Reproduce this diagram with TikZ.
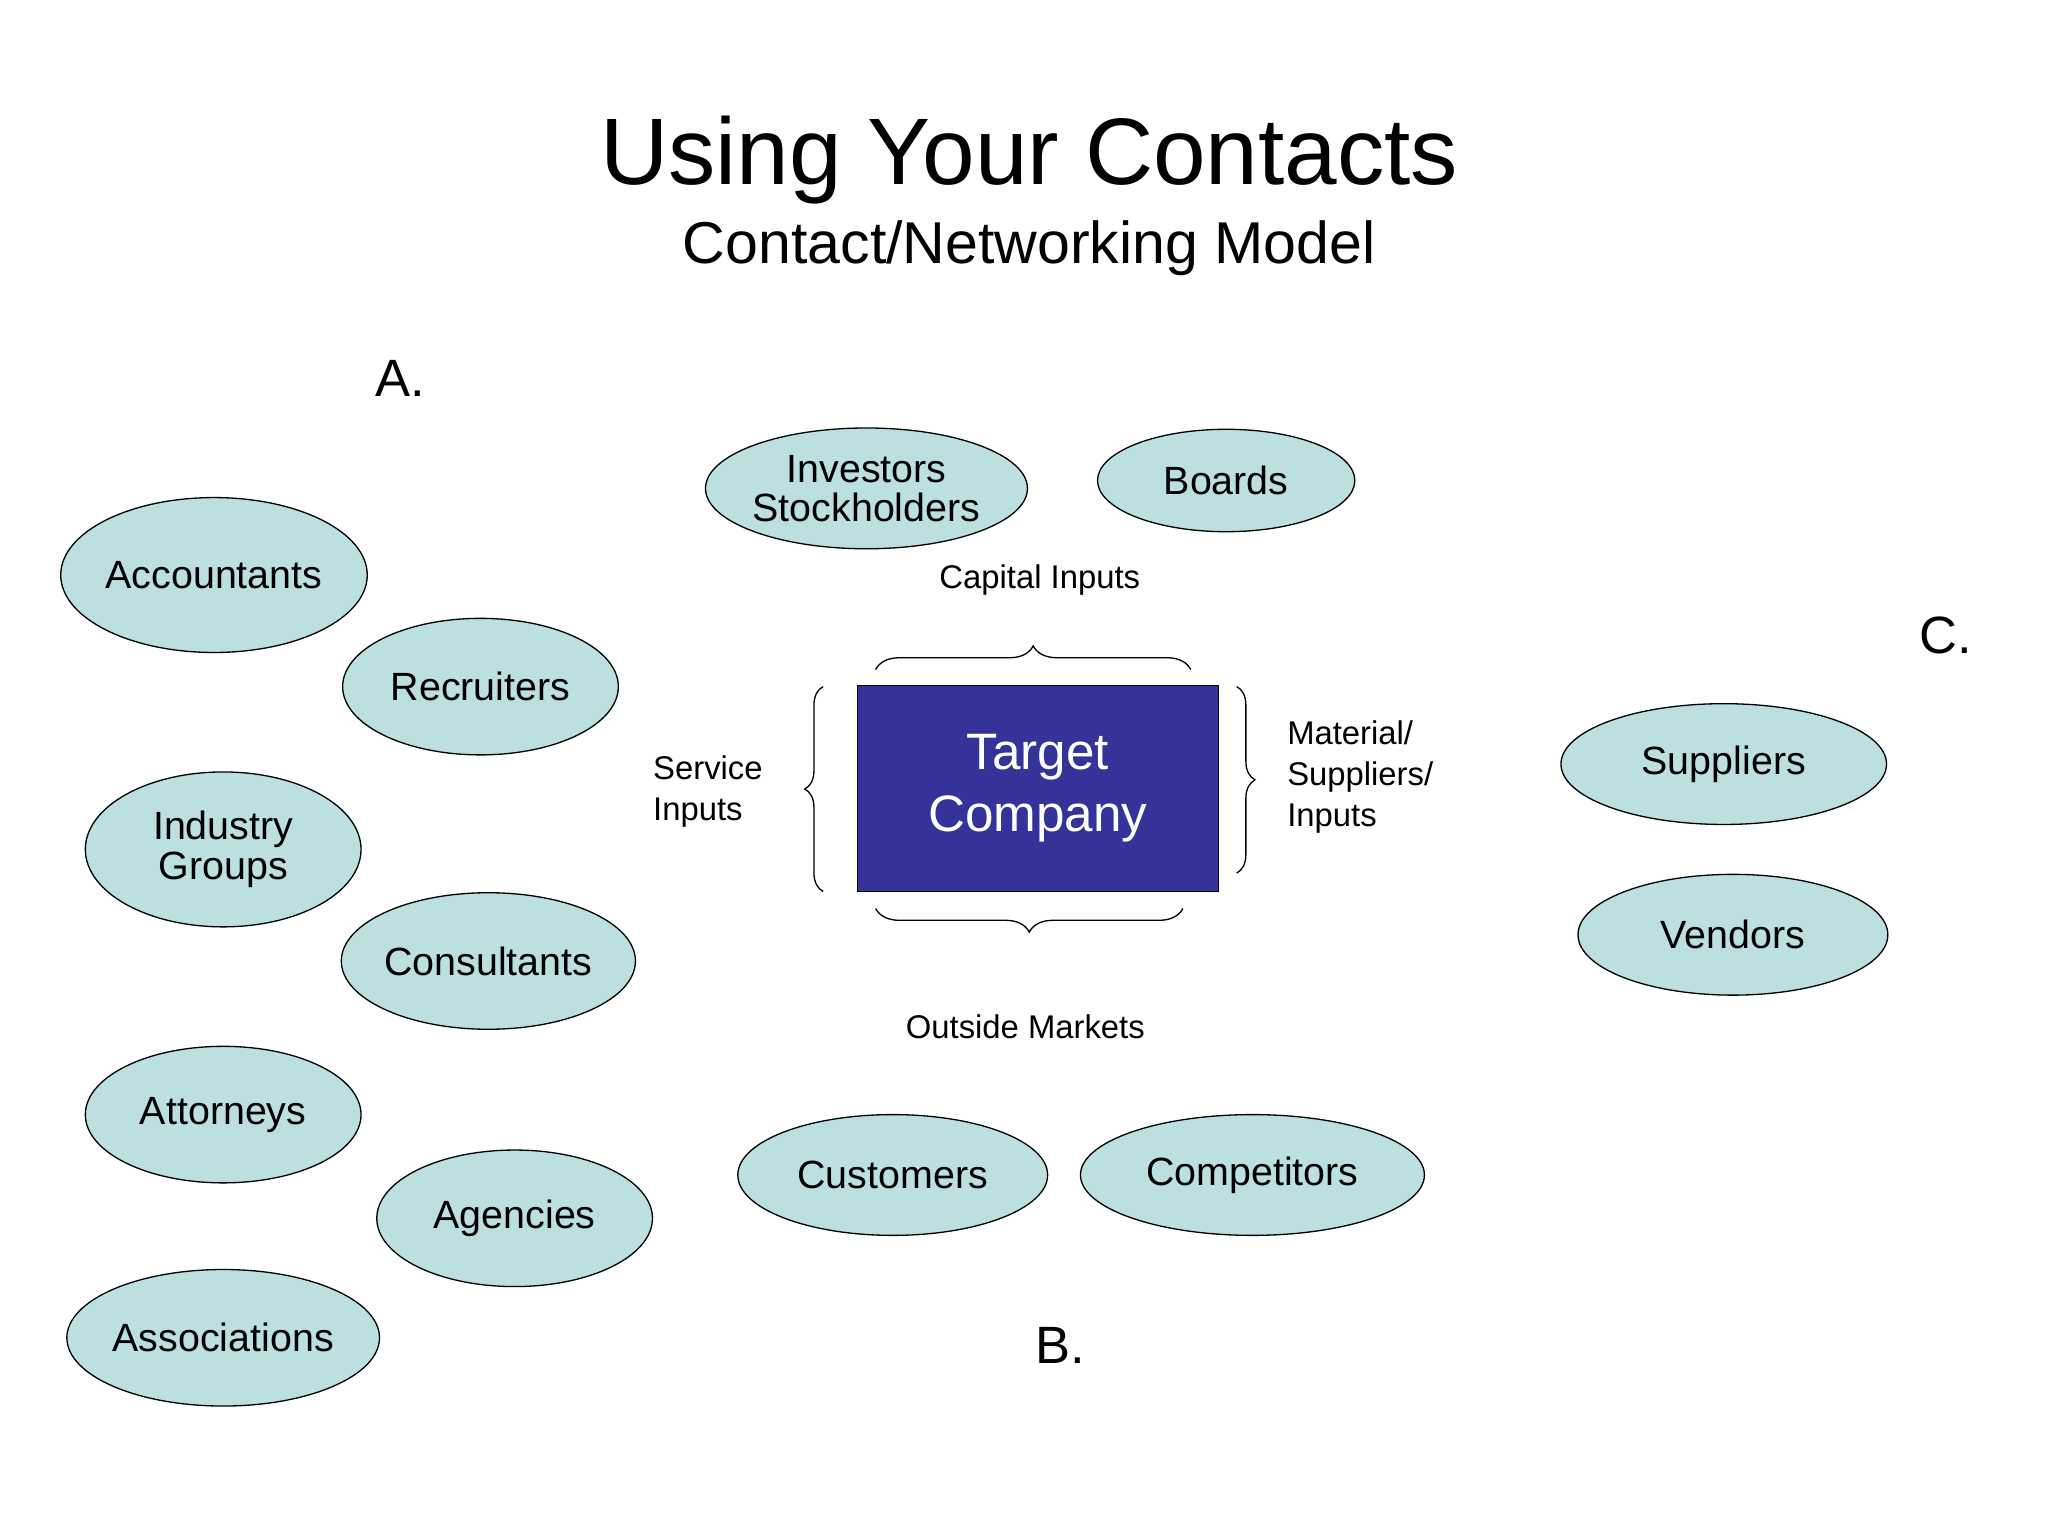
\documentclass[tikz,border=0pt]{standalone}
\usepackage{fontspec}
\setmainfont{Liberation Sans}
\usetikzlibrary{shapes.geometric,decorations.pathreplacing}
\definecolor{teal}{HTML}{BCE0E0}
\definecolor{navy}{HTML}{333399}
\begin{document}
\begin{tikzpicture}[x=1pt,y=-1pt,
  ell/.style={ellipse,draw=black,line width=1pt,fill=teal,inner sep=0pt,font=\fontsize{30}{34}\selectfont,align=center},
  lab/.style={font=\fontsize{25}{31}\selectfont,align=left},
  brc/.style={draw=black,line width=1pt,decorate,decoration={brace,amplitude=18pt}}]
\useasboundingbox (0,0) rectangle (1560,1170);
\node (title) at (784,122) {\fontsize{72}{80}\selectfont Using Your Contacts};
\node (sub) at (784,189) {\fontsize{45}{50}\selectfont Contact/Networking Model};
\node (A) at (305,288) {\fontsize{40}{44}\selectfont A.};
\node (B) at (808,1025) {\fontsize{40}{44}\selectfont B.};
\node (C) at (1482,484) {\fontsize{40}{44}\selectfont C.};
\newcommand{\el}[6]{\node[ell,minimum width=#4pt,minimum height=#5pt] (#1) at (#2,#3) {#6};}
\el{inv}{660}{372}{222}{92}{Investors\\[-4pt]Stockholders}
\el{boards}{934}{366}{196}{78}{Boards}
\el{acc}{163}{438}{196}{118}{Accountants}
\el{rec}{366}{523}{210}{104}{Recruiters}
\el{ind}{170}{647}{210}{118}{Industry\\[-4pt]Groups}
\el{con}{372}{732}{222}{104}{Consultants}
\el{att}{170}{849}{210}{104}{Attorneys}
\el{agen}{392}{928}{210}{104}{Agencies}
\el{assoc}{170}{1019}{210}{104}{Associations}
\el{cust}{680}{895}{236}{92}{Customers}
\el{comp}{954}{895}{262}{92}{Competitors}
\el{supp}{1313}{582}{248}{92}{Suppliers}
\el{vend}{1320}{712}{236}{92}{Vendors}
\node[draw=black,line width=1pt,fill=navy,text=white,minimum width=275pt,minimum height=157pt,align=center,font=\fontsize{39}{47}\selectfont] (tc) at (790.5,600.5) {Target\\Company};
\coordinate (t1) at (667,510); \coordinate (t2) at (907,510);
\coordinate (b1) at (901,692); \coordinate (b2) at (667,692);
\coordinate (l1) at (627,679); \coordinate (l2) at (627,523);
\coordinate (r1) at (942,523); \coordinate (r2) at (942,665);
\draw[brc] (t1) -- (t2);
\draw[brc] (b1) -- (b2);
\draw[brc,decoration={amplitude=14pt}] (l1) -- (l2);
\draw[brc,decoration={amplitude=14pt}] (r1) -- (r2);
\node[lab] (cap) at (792,442) {Capital Inputs};
\node[lab] (out) at (781,782) {Outside Markets};
\node[lab,anchor=west] (serv) at (494,603) {Service\\Inputs};
\node[lab,anchor=west] (mat) at (977,592) {Material/\\Suppliers/\\Inputs};
\end{tikzpicture}
\end{document}
